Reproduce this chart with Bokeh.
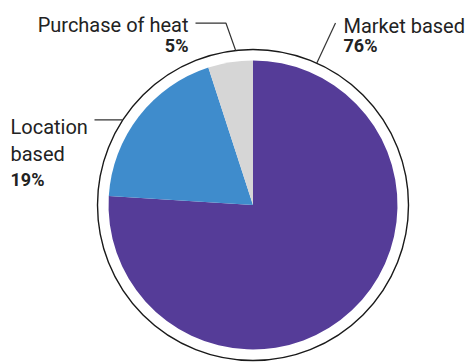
import math
from bokeh.plotting import figure
from bokeh.models import Range1d
from bokeh.core.properties import value
from bokeh.embed import file_html
from bokeh.resources import INLINE

# Data
categories = ["Market based", "Location based", "Purchase of heat"]
shares = [76, 19, 5]
share_labels = ["76%", "19%", "5%"]
colors = ["#553c98", "#3f8ccc", "#d6d6d6"]

W, H = 467, 363
p = figure(width=W, height=H, output_backend="svg", toolbar_location=None,
           x_range=Range1d(0, W), y_range=Range1d(0, H), min_border=0)
p.axis.visible = False
p.grid.visible = False
p.outline_line_color = None
p.background_fill_color = "white"
p.border_fill_color = "white"

cx, cy = 252.5, H - 204.5
r_pie, r_ring = 144.5, 155.5

# wedges from top, clockwise
total = sum(shares)
start = math.pi / 2
starts, ends = [], []
for s in shares:
    a = 2 * math.pi * s / total
    starts.append(start)
    ends.append(start - a)
    start -= a
p.wedge(x=[cx] * 3, y=[cy] * 3, radius=r_pie, start_angle=starts, end_angle=ends,
        direction="clock", fill_color=colors, line_color=None)

# outer ring
p.circle(x=[cx], y=[cy], radius=r_ring, fill_color=None, line_color="#1a1a1a", line_width=1.4)

def ring_pt(deg):
    t = math.radians(deg)
    return cx + r_ring * math.cos(t), cy + r_ring * math.sin(t)

lc = "#333333"
# Purchase of heat leader
ex, ey = ring_pt(96.4)
p.line(x=[195, 225.5, ex], y=[H - 22.7, H - 22.7, ey], line_color=lc, line_width=1.2)
# Market based leader
ex, ey = ring_pt(65.8)
p.line(x=[335, ex], y=[H - 22.5, ey], line_color=lc, line_width=1.2)
# Location based leader
ex, ey = ring_pt(147.3)
p.line(x=[94, ex], y=[H - 119.3, H - 119.3], line_color=lc, line_width=1.2)

font = value("Roboto")
tc = "#222222"
# Labels
p.text(x=[188], y=[H - 24], text=[categories[2]], text_font=font, text_font_size="20px",
       text_align="right", text_baseline="alphabetic", text_color=tc)
p.text(x=[188], y=[H - 45], text=[share_labels[2]], text_font=font, text_font_size="18px",
       text_font_style="bold", text_align="right", text_baseline="alphabetic", text_color=tc)

p.text(x=[343], y=[H - 25], text=[categories[0]], text_font=font, text_font_size="20px",
       text_align="left", text_baseline="alphabetic", text_color=tc)
p.text(x=[343], y=[H - 45], text=[share_labels[0]], text_font=font, text_font_size="18px",
       text_font_style="bold", text_align="left", text_baseline="alphabetic", text_color=tc)

p.text(x=[10, 10], y=[H - 126.7, H - 153.3], text=["Location", "based"], text_font=font,
       text_font_size="20px", text_align="left", text_baseline="alphabetic", text_color=tc)
p.text(x=[10], y=[H - 179.3], text=[share_labels[1]], text_font=font, text_font_size="18px",
       text_font_style="bold", text_align="left", text_baseline="alphabetic", text_color=tc)

open("out.html", "w").write(file_html(p, INLINE))
